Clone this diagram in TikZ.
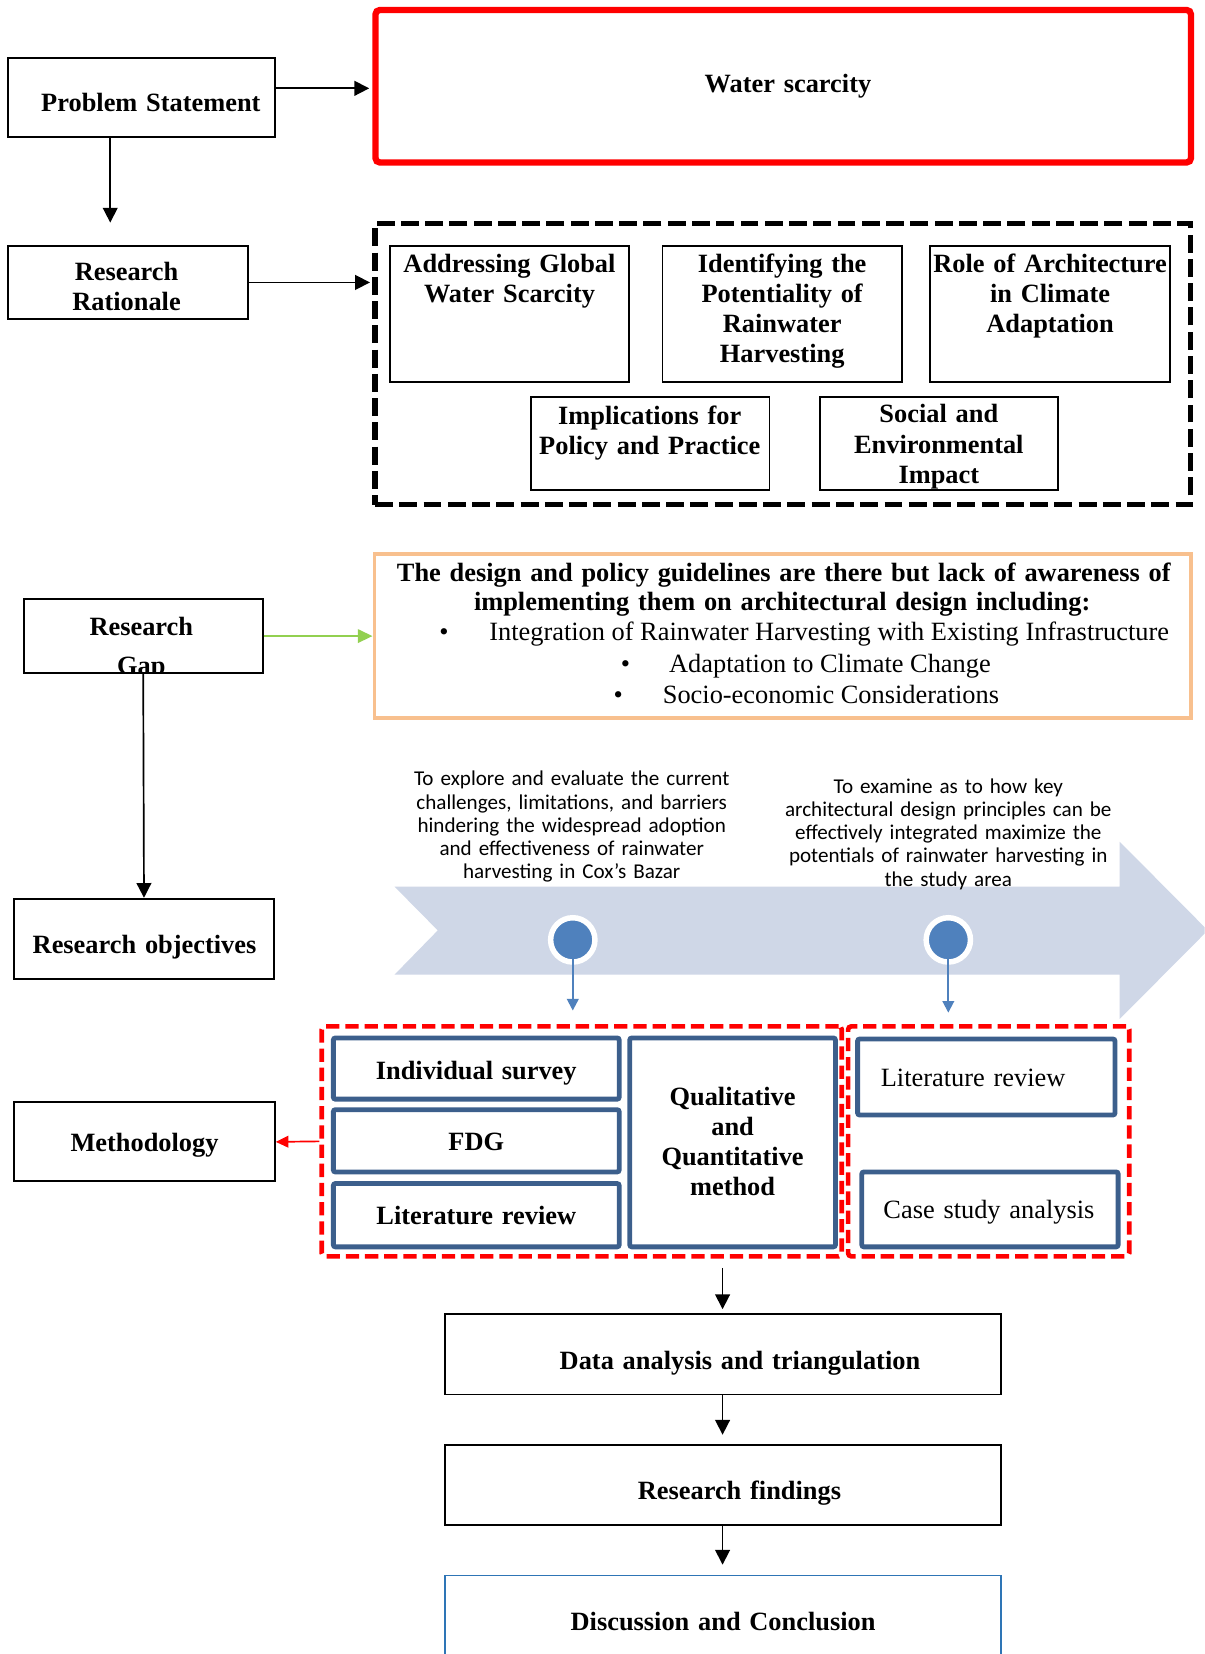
\documentclass[tikz,border=0pt]{standalone}
\usepackage{fontspec}
\setmainfont{Liberation Serif}
\newfontfamily\calib{Carlito}
\usetikzlibrary{arrows.meta,fit}
\definecolor{boxblue}{RGB}{60,95,140}
\definecolor{arrowgrey}{RGB}{207,215,231}
\definecolor{dotblue}{RGB}{79,129,189}
\definecolor{peach}{RGB}{248,192,142}
\definecolor{lgreen}{RGB}{146,208,80}
\definecolor{dcblue}{RGB}{46,117,182}
\newcommand\bsz{\fontsize{12.5pt}{14.25pt}\selectfont}
\newcommand\ssz{\calib\fontsize{10pt}{11pt}\selectfont}
\begin{document}
\begin{tikzpicture}[x=0.5pt,y=-0.5pt,
  plain/.style={draw=black, line width=0.9pt, inner sep=0pt},
  bbox/.style={draw=boxblue, line width=2.3pt, rounded corners=1pt, inner sep=0pt},
  rdash/.style={draw=red, line width=2.2pt, dash pattern=on 6.3pt off 2.8pt, rounded corners=1.5pt, inner sep=0pt},
  btxt/.style={font=\bsz\bfseries, inner sep=0pt, text width=#1, align=center, anchor=base},
  btxt/.default=200pt,
  rtxt/.style={font=\bsz, inner sep=0pt, text width=#1, align=center, anchor=base},
  rtxt/.default=200pt,
  stxt/.style={font=\ssz, inner sep=0pt, text width=#1, align=center, anchor=base},
  arr/.style={-{Triangle[length=7pt,width=7pt]}, line width=0.8pt},
  garr/.style={draw=lgreen, -{Triangle[length=7pt,width=6.3pt]}, line width=1.25pt},
  barr/.style={draw=dotblue, -{Triangle[length=5.5pt,width=5.5pt]}, line width=0.9pt},
  rarr/.style={draw=red, -{Triangle[length=6pt,width=5.5pt]}, line width=0.8pt},
  dot/.style={circle, fill=dotblue, draw=white, line width=2.6pt, minimum size=21pt, inner sep=0pt}
]
\useasboundingbox (0,0) rectangle (1142,1568);
\clip (0,0) rectangle (1142,1568);
\fill[white] (0,0) rectangle (1142,1568);

% Problem statement
\node[plain, fit={(8,55)(260.5,130)}] (ps) {};
\node[btxt] (pst) at (143,106) {Problem Statement};
\node[draw=red, line width=3pt, rounded corners=2pt, inner sep=0pt, fit={(356,9.5)(1129,154)}] (ws) {};
\node[btxt] (wst) at (747,88) {Water scarcity};
\draw[arr, shorten >=1.5pt] ([yshift=-1pt]ps.east |- ws.west) -- ([yshift=-1pt]ws.west);
\coordinate (psd) at (104.5,211);
\draw[arr] (ps.south -| psd) -- (psd);

% Research rationale
\node[plain, fit={(8,233)(235,302.5)}] (rr) {};
\node[btxt] (rrt) at (120,266) {Research\\Rationale};
\node[draw=black, line width=2.4pt, dash pattern=on 8.5pt off 3pt, inner sep=0pt, fit={(355.5,212)(1128.5,478.5)}] (rat) {};
\draw[arr, shorten >=1.2pt] (rr.east) -- (rr.east -| rat.west);

\node[plain, fit={(370,233)(596,362)}] (r1) {};
\node[btxt=150pt] (r1t) at (483,258) {Addressing Global\\Water Scarcity};
\node[plain, fit={(628,233)(855,362)}] (r2) {};
\node[btxt=150pt] (r2t) at (741.5,258) {Identifying the\\Potentiality of\\Rainwater\\Harvesting};
\node[plain, fit={(882,233)(1109,362)}] (r3) {};
\node[btxt=150pt] (r3t) at (995.5,258) {Role of Architecture\\in Climate\\Adaptation};
\node[plain, fit={(503,376)(729.5,464.5)}] (r4) {};
\node[btxt=150pt] (r4t) at (616,402) {Implications for\\Policy and Practice};
\node[plain, fit={(777,376)(1003,464.5)}] (r5) {};
\node[btxt=150pt] (r5t) at (890,401) {Social and\\Environmental\\Impact};

% Research gap
\begin{scope}
\clip (22.5,568) rectangle (249,638);
\node[btxt] (rgt2) at (134,639) {Gap};
\end{scope}
\node[plain, fit={(22.5,568)(249,638)}] (rg) {};
\node[btxt] (rgt) at (134,602) {Research};
\node[draw=peach, line width=1.8pt, inner sep=0pt, fit={(355,525)(1129,680.5)}] (gap) {};
\draw[garr] (rg.east) -- (rg.east -| gap.west);
\node[btxt=380pt] (gt1) at (743,551) {The design and policy guidelines are there but lack of awareness of};
\node[btxt=380pt] (gt2) at (741.5,579) {implementing them on architectural design including:};
\node[font=\bsz, inner sep=0pt, anchor=base] (b1) at (421,607.5) {\textbullet};
\node[font=\bsz, inner sep=0pt, anchor=base west] (g3) at (463.5,607.5) {Integration of Rainwater Harvesting with Existing Infrastructure};
\node[font=\bsz, inner sep=0pt, anchor=base] (b2) at (593,638) {\textbullet};
\node[font=\bsz, inner sep=0pt, anchor=base west] (g4) at (634,638) {Adaptation to Climate Change};
\node[font=\bsz, inner sep=0pt, anchor=base] (b3) at (586,667) {\textbullet};
\node[font=\bsz, inner sep=0pt, anchor=base west] (g5) at (628,667) {Socio-economic Considerations};

% Research objectives
\node[plain, fit={(13,852)(260,928)}] (ro) {};
\node[btxt] (rot) at (137,904) {Research objectives};
\draw[arr] (rg.south) -- (ro.north);

\fill[arrowgrey] (374,840.5) -- (1061.5,840.5) -- (1061.5,798) -- (1145,882) -- (1061.5,966) -- (1061.5,924) -- (374,924) -- (415,882) -- cycle;
\node[stxt=170pt] (o1) at (542,745) {To explore and evaluate the current\\challenges, limitations, and barriers\\hindering the widespread adoption\\and effectiveness of rainwater\\harvesting in Cox’s Bazar};
\node[stxt=170pt] (o2) at (899,752) {To examine as to how key\\architectural design principles can be\\effectively integrated maximize the\\potentials of rainwater harvesting in\\the study area};
\node[dot] (c1) at (543,891) {};
\node[dot] (c2) at (899,891) {};
\coordinate (c1e) at (543,958);
\coordinate (c2e) at (899,960);
\draw[barr] (c1.center) -- (c1e);
\draw[barr] (c2.center) -- (c2e);

% Methodology
\node[plain, fit={(13,1045)(260.5,1120)}] (me) {};
\node[btxt] (met) at (137,1092) {Methodology};
\node[rdash, fit={(305,973)(798,1191)}] (ml) {};
\node[rdash, fit={(804,973)(1070.5,1191)}] (mr) {};
\draw[rarr] (ml.west) -- (me.east);

\node[bbox, fit={(316,984)(587,1042)}] (m1) {};
\node[btxt] (m1t) at (451.5,1023) {Individual survey};
\node[bbox, fit={(316,1052)(587,1111)}] (m2) {};
\node[btxt] (m2t) at (451.5,1091) {FDG};
\node[bbox, fit={(316,1122)(587,1182)}] (m3) {};
\node[btxt] (m3t) at (451.5,1161) {Literature review};
\node[bbox, fit={(597,984)(792,1182)}] (m4) {};
\node[btxt=150pt] (m4t) at (694.5,1048) {Qualitative\\and\\Quantitative\\method};
\node[bbox, fit={(813,985)(1057,1057)}] (m5) {};
\node[rtxt] (m5t) at (922.5,1030) {Literature review};
\node[bbox, fit={(817,1111)(1060,1182)}] (m6) {};
\node[rtxt] (m6t) at (937.5,1155) {Case study analysis};

% Bottom flow
\coordinate (mda) at (685,1202);
\node[plain, fit={(422,1246)(949,1322)}] (da) {};
\node[btxt=300pt] (dat) at (701.5,1298) {Data analysis and triangulation};
\draw[arr, shorten >=2pt] (mda) -- (mda |- da.north);
\node[plain, fit={(422,1370)(949,1446)}] (rf) {};
\node[btxt] (rft) at (701,1421.5) {Research findings};
\draw[arr, shorten >=4.5pt] (da.south -| mda) -- (rf.north -| mda);
\node[draw=dcblue, line width=0.7pt, inner sep=0pt, fit={(422,1493.5)(949,1600)}] (dc) {};
\node[btxt=300pt] (dct) at (685.5,1545.5) {Discussion and Conclusion};
\draw[arr, shorten >=4.75pt] (rf.south -| mda) -- (dc.north -| mda);
\end{tikzpicture}
\end{document}
